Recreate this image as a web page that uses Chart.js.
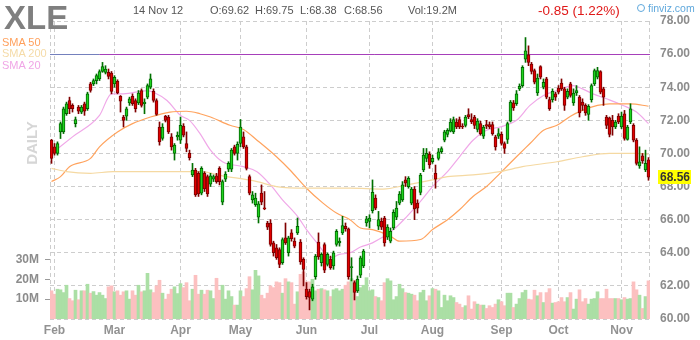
<!DOCTYPE html>
<html>
<head>
<meta charset="utf-8">
<script src="https://cdn.jsdelivr.net/npm/chart.js@4.4.0/dist/chart.umd.min.js"></script>
<style>
  body { margin: 0; background: #fff; }
  #wrap { position: relative; width: 700px; height: 340px; font-family: Arial, "Liberation Sans", sans-serif; }
  #chart { position: absolute; left: 0; top: 0; }
  .t { position: absolute; white-space: nowrap; line-height: 1; }
  .hd { font-size: 11px; color: #555; top: 5px; }
  .sma { font-size: 11px; left: 2px; }
</style>
</head>
<body>
<div id="wrap">
  <canvas id="chart" width="700" height="340"></canvas>
  <div class="t" style="left:4px; top:1px; font-size:33px; font-weight:bold; color:#7f7f7f;">XLE</div>
  <div class="t hd" style="left:133px;">14 Nov 12</div>
  <div class="t hd" style="left:210px;">O:69.62</div>
  <div class="t hd" style="left:255px;">H:69.75</div>
  <div class="t hd" style="left:300px;">L:68.38</div>
  <div class="t hd" style="left:344px;">C:68.56</div>
  <div class="t hd" style="left:408px;">Vol:19.2M</div>
  <div class="t" style="left:538px; top:4px; font-size:13.5px; color:#e01818;">-0.85 (1.22%)</div>
  <div class="t" style="left:637px; top:3px; font-size:10.5px; color:#5fa8dc;"><span style="display:inline-block;width:6px;height:6px;border:1px solid #5fa8dc;border-radius:50%;margin-right:3px;vertical-align:0px;"></span>finviz.com</div>
  <div class="t sma" style="top:37px; color:#ffa05c;">SMA 50</div>
  <div class="t sma" style="top:48px; color:#f5dba8;">SMA 200</div>
  <div class="t sma" style="top:60px; color:#f0a6e6;">SMA 20</div>
  <div class="t" style="left:31px; top:143px; font-size:15px; font-weight:bold; color:#d6d6d6; transform:translate(-50%,-50%) rotate(-90deg);">DAILY</div>
</div>
<script>
// daily candles, Jan 31 2012 .. Nov 14 2012 (index = trading day)
const opens = [
  70.8, 70.4, 70.0, 71.3, 71.3, 72.4, 73.2, 72.9, 71.8, 72.8,
  72.5, 73.0, 72.7, 74.2, 74.2, 74.4, 74.5, 74.95, 74.9, 74.9,
  74.85, 74.2, 74.35, 73.45, 72.2, 72.25, 73.05, 73.45, 73.2, 73.05,
  73.8, 73.0, 73.4, 74.0, 73.75, 73.2, 71.6, 70.9, 72.25, 72.2,
  71.0, 70.0, 71.0, 70.8, 71.65, 70.6, 70.0, 68.7, 69.0, 68.8,
  67.6, 68.8, 68.6, 68.15, 68.45, 68.65, 69.1, 67.05, 68.45, 69.05,
  69.05, 70.4, 70.0, 70.6, 71.0, 70.4, 68.6, 67.2, 66.9, 66.15,
  67.6, 66.7, 65.8, 65.8, 64.6, 64.3, 64.2, 63.4, 64.9, 64.0,
  65.2, 64.7, 65.2, 64.65, 63.6, 61.8, 61.65, 61.2, 62.55, 64.65,
  63.4, 64.5, 63.3, 63.6, 63.2, 64.5, 64.6, 65.2, 65.6, 65.45,
  63.1, 62.2, 61.7, 62.65, 63.2, 65.8, 65.9, 66.55, 67.3, 65.6,
  65.9, 66.1, 64.95, 64.7, 65.5, 66.15, 67.0, 67.2, 68.4, 68.0,
  67.0, 67.85, 67.0, 67.65, 69.0, 69.7, 69.95, 69.5, 68.8, 69.7,
  70.1, 70.8, 71.15, 71.35, 71.3, 71.9, 72.05, 71.65, 71.7, 72.35,
  72.05, 72.2, 71.45, 71.8, 71.05, 71.75, 71.75, 71.75, 71.0, 71.05,
  71.15, 70.6, 70.85, 71.95, 73.05, 73.0, 73.9, 74.1, 75.7, 75.95,
  75.4, 75.0, 73.65, 75.25, 74.0, 74.5, 73.25, 73.25, 73.6, 73.95,
  74.25, 73.9, 73.4, 74.2, 73.05, 73.65, 73.4, 73.1, 72.9, 72.35,
  73.25, 74.2, 74.6, 74.95, 73.9, 72.2, 72.15, 72.0, 71.6, 72.25,
  71.6, 72.4, 70.85, 71.9, 71.7, 70.8, 69.25, 69.85, 69.0, 69.62
];
const highs = [
  70.85, 70.6, 70.7, 71.9, 72.8, 73.1, 73.4, 73.0, 72.2, 72.9,
  72.9, 73.1, 73.7, 74.3, 74.5, 74.8, 75.05, 75.5, 75.3, 75.1,
  74.95, 74.7, 74.45, 73.5, 72.3, 72.8, 73.4, 73.6, 73.3, 73.8,
  73.9, 73.3, 74.2, 74.8, 73.9, 73.3, 71.9, 71.8, 72.3, 72.3,
  71.2, 70.6, 71.3, 72.2, 71.8, 71.3, 70.2, 69.4, 69.1, 68.9,
  69.2, 68.9, 68.7, 68.8, 68.7, 68.8, 69.2, 68.4, 68.9, 69.5,
  70.3, 70.5, 70.7, 72.05, 71.3, 70.5, 68.7, 67.7, 67.6, 67.1,
  68.1, 67.7, 65.9, 66.0, 64.7, 64.5, 64.3, 64.9, 65.8, 65.0,
  65.4, 64.9, 66.1, 64.8, 63.7, 62.2, 61.8, 62.1, 63.9, 65.2,
  64.0, 64.6, 64.0, 63.8, 64.1, 65.4, 64.9, 66.2, 65.8, 65.5,
  63.7, 62.3, 62.6, 63.8, 64.2, 66.2, 66.3, 68.4, 67.5, 66.5,
  66.1, 66.2, 65.7, 65.5, 66.6, 67.1, 67.7, 68.3, 68.6, 68.6,
  67.95, 68.0, 67.2, 68.8, 70.3, 70.3, 70.1, 69.9, 69.3, 70.3,
  70.4, 71.4, 71.5, 72.1, 72.2, 72.1, 72.2, 71.8, 72.3, 72.7,
  72.4, 72.3, 72.1, 71.95, 71.7, 72.0, 71.9, 71.9, 71.1, 71.5,
  71.3, 70.7, 71.9, 73.2, 73.2, 73.8, 74.2, 75.3, 77.0, 76.5,
  75.5, 75.1, 74.8, 75.3, 74.5, 74.6, 73.4, 73.9, 73.7, 74.1,
  74.5, 74.0, 73.9, 74.3, 73.9, 74.1, 73.5, 73.3, 73.0, 72.95,
  74.2, 75.1, 75.2, 75.0, 74.0, 72.3, 72.2, 72.3, 72.0, 72.4,
  72.5, 72.6, 71.7, 73.0, 71.8, 70.9, 70.4, 70.0, 70.2, 69.75
];
const lows = [
  69.4, 69.9, 69.9, 70.9, 71.2, 72.3, 72.4, 72.5, 71.6, 72.4,
  72.4, 72.3, 72.6, 73.7, 74.1, 74.2, 74.4, 74.9, 74.8, 74.5,
  73.6, 74.0, 73.6, 72.5, 71.6, 72.0, 72.9, 72.9, 72.5, 72.95,
  72.8, 72.4, 73.3, 73.9, 73.1, 72.3, 70.5, 70.8, 71.9, 71.2,
  70.2, 69.6, 70.8, 70.6, 71.0, 70.1, 69.6, 68.6, 67.4, 67.4,
  67.5, 67.7, 67.4, 68.0, 68.3, 68.2, 68.1, 66.9, 68.3, 68.9,
  68.9, 69.9, 69.6, 70.4, 70.3, 69.0, 67.5, 67.0, 66.8, 65.8,
  66.9, 66.6, 65.4, 64.4, 63.8, 63.6, 63.1, 63.3, 64.5, 63.8,
  64.7, 64.3, 65.1, 63.3, 62.0, 61.2, 60.55, 61.1, 62.4, 63.6,
  63.2, 62.8, 63.2, 63.0, 63.0, 64.4, 64.4, 65.1, 65.3, 62.4,
  62.3, 61.15, 61.6, 62.5, 63.1, 65.6, 65.5, 66.4, 66.6, 65.4,
  65.4, 64.4, 64.8, 64.6, 65.4, 66.0, 66.9, 67.1, 68.0, 67.9,
  66.9, 66.0, 66.4, 67.5, 68.9, 69.5, 69.1, 69.4, 67.9, 69.6,
  70.0, 70.7, 71.0, 71.3, 71.2, 71.5, 71.5, 71.5, 71.6, 72.1,
  71.8, 71.5, 71.3, 71.1, 70.9, 71.5, 71.5, 71.1, 70.2, 70.9,
  70.5, 70.0, 70.6, 71.9, 72.6, 72.9, 73.8, 74.0, 75.5, 75.3,
  74.8, 74.2, 73.5, 74.5, 73.9, 73.3, 72.6, 73.1, 73.2, 73.6,
  73.8, 72.6, 73.3, 73.4, 72.9, 73.5, 72.2, 72.6, 72.3, 72.0,
  73.1, 74.1, 74.5, 73.6, 72.9, 71.5, 71.0, 71.1, 71.5, 71.8,
  71.5, 70.8, 70.8, 71.8, 70.7, 69.3, 69.1, 69.4, 68.9, 68.38
];
const closes = [
  69.7, 70.0, 70.6, 71.8, 72.7, 73.0, 72.7, 72.7, 72.05, 72.55,
  72.8, 72.55, 73.6, 73.8, 74.4, 74.7, 74.95, 75.25, 75.1, 74.65,
  73.75, 74.6, 73.65, 73.15, 72.0, 72.7, 73.3, 73.0, 72.7, 73.65,
  72.9, 73.1, 74.1, 74.5, 73.2, 72.35, 70.7, 71.6, 72.0, 71.3,
  70.4, 70.5, 71.1, 71.7, 71.1, 70.3, 69.75, 69.0, 67.5, 67.55,
  69.1, 67.85, 67.55, 68.65, 68.6, 68.3, 68.3, 68.3, 68.75, 69.4,
  70.2, 70.0, 70.55, 71.6, 70.4, 69.1, 67.6, 67.5, 67.3, 66.95,
  67.05, 66.65, 65.55, 64.5, 64.0, 63.7, 63.3, 64.8, 64.6, 64.9,
  64.85, 64.4, 65.6, 63.45, 63.0, 61.35, 61.3, 61.95, 63.8, 63.75,
  63.9, 62.95, 63.9, 63.1, 64.0, 65.3, 64.7, 65.65, 65.45, 62.55,
  63.15, 61.6, 62.4, 63.7, 64.1, 66.05, 66.1, 67.65, 66.7, 66.0,
  65.55, 64.6, 65.55, 65.3, 66.45, 66.7, 67.55, 68.1, 68.2, 68.5,
  67.85, 66.65, 66.7, 68.7, 69.9, 70.0, 69.3, 69.7, 68.45, 70.1,
  70.3, 71.3, 71.4, 71.9, 72.05, 71.6, 71.6, 71.6, 72.2, 72.2,
  71.9, 71.7, 71.95, 71.2, 71.6, 71.65, 71.6, 71.2, 70.4, 71.2,
  70.6, 70.3, 71.8, 73.1, 72.75, 73.6, 74.05, 75.2, 76.2, 75.5,
  74.95, 74.3, 74.55, 74.6, 74.3, 73.4, 72.7, 73.75, 73.4, 73.7,
  73.9, 72.9, 73.75, 73.5, 73.65, 73.8, 72.45, 72.9, 72.45, 72.85,
  74.1, 75.0, 75.0, 73.7, 73.4, 71.7, 71.15, 71.6, 71.9, 71.9,
  72.25, 70.9, 71.6, 72.7, 70.8, 69.4, 69.5, 69.55, 69.41, 68.56
];
// volume in millions
const volumes = [
  14.2, 12.5, 15, 14.7, 13.3, 17, 10.3, 9.2, 14.5, 9.7,
  14.2, 14.2, 17.5, 13, 13.8, 12, 13.3, 12, 10.3, 16.2,
  16.7, 13.7, 14.2, 12, 13.7, 14.2, 10, 14.2, 12, 17,
  13.7, 14.2, 23, 14.7, 13.3, 16.7, 19.5, 13, 10, 12.5,
  15, 16.2, 12.8, 17.8, 15.8, 18.3, 9.2, 15, 22, 12.5,
  14.5, 12.5, 14.5, 14.2, 10.3, 20.5, 14.5, 17, 10, 14.2,
  11.3, 7, 7, 14.2, 11.3, 15.3, 21.3, 14.7, 24.5, 21.7,
  12, 10.3, 13, 16.7, 15.8, 18.7, 18.3, 13, 20.3, 18.7,
  18.3, 7.5, 13.7, 22.5, 23.7, 18.7, 18.7, 20, 14.2, 15,
  15.3, 14.7, 14.2, 11.3, 14.7, 15.3, 14.2, 15, 17, 18.7,
  20.3, 19.5, 11.3, 15.8, 17, 20.8, 14.2, 14.7, 11.3, 10.8,
  9.2, 18.3, 20.3, 19.2, 9.7, 11.3, 17.5, 15.3, 13.3, 13,
  12.5, 12, 9.2, 13.3, 14.5, 9.2, 11.7, 15.3, 15, 14.2,
  5.8, 12, 9.2, 11.7, 10.8, 8.3, 7.5, 5.8, 6.7, 11.7,
  5, 8.7, 7.5, 7, 7, 5.3, 6.7, 5.8, 7.5, 9.7,
  8.7, 6.7, 13, 13, 5.8, 7.5, 10.3, 13.3, 14.5, 10,
  9.7, 14.5, 11.7, 13.3, 8.3, 13.3, 15.3, 8, 8.3, 8.7,
  10.8, 8.7, 10.8, 13.3, 5, 10, 14.7, 8.7, 10.3, 7.5,
  10, 10.3, 13.7, 10.3, 10.3, 15, 10.3, 10.3, 10.3, 10.3,
  9.7, 10.8, 10, 10.3, 18.7, 14.7, 12, 5.3, 11.3, 19.2
];

// moving averages at these day positions
const sma20X = [0, 7, 16, 20, 24, 32, 34, 38.5, 43, 46, 49.5, 53, 57, 64, 68.5, 73, 77, 82, 85, 88.5, 93, 96, 99.5, 103, 107, 114, 118.5, 123, 127, 132, 136, 140.5, 145, 149.5, 155, 159.5, 164, 168.5, 174, 177, 180.5, 185, 190.5, 195, 199];
const sma20Y = [70.0, 71.0, 72.3, 73.6, 73.6, 73.8, 73.7, 73.2, 72.3, 72.0, 71.2, 70.2, 69.5, 69.2, 68.9, 68.1, 67.2, 66.2, 65.4, 64.6, 63.7, 63.9, 64.0, 64.35, 64.6, 65.4, 66.2, 67.1, 68.0, 68.9, 69.8, 70.8, 71.4, 71.6, 72.0, 72.9, 73.5, 73.8, 74.1, 73.9, 73.6, 73.3, 72.9, 72.5, 71.8];
const sma50X = [0, 3, 6, 13, 16, 22, 27, 33, 39.5, 45, 49.5, 53, 59.5, 64, 68.5, 75, 79.5, 85, 90.5, 95, 99.5, 103, 107, 113, 116, 123, 127, 132, 136, 140.5, 145, 149.5, 155, 159.5, 164, 168.5, 173, 177, 182, 186, 193, 199];
const sma50Y = [68.3, 68.6, 69.2, 69.7, 70.4, 71.3, 71.8, 72.2, 72.5, 72.55, 72.4, 72.2, 71.7, 71.45, 70.8, 69.8, 69.0, 67.9, 67.0, 66.4, 66.0, 65.5, 65.4, 65.0, 64.7, 64.8, 65.4, 66.0, 66.6, 67.4, 68.0, 68.8, 69.8, 70.6, 71.4, 71.7, 72.25, 72.6, 72.9, 73.0, 73.0, 72.85];
const sma200X = [0, 5, 13, 20.5, 29.5, 40.5, 49.5, 57, 68.5, 75, 85, 99.5, 110.5, 118.5, 127, 132, 140.5, 149.5, 157, 168.5, 177, 186, 195, 199];
const sma200Y = [69.1, 68.9, 68.8, 68.9, 68.9, 68.9, 68.9, 68.65, 68.3, 68.0, 67.9, 67.9, 67.85, 68.1, 68.4, 68.6, 68.7, 68.9, 69.2, 69.5, 69.8, 70.0, 70.0, 69.95];

const monthNames = ['Feb', 'Mar', 'Apr', 'May', 'Jun', 'Jul', 'Aug', 'Sep', 'Oct', 'Nov'];
const monthStarts = [1, 21, 43, 63, 85, 106, 127, 150, 169, 190];
const volTicks = [10, 20, 30];
const levelLine = 76;
const levelSplitDay = 16; // level line changes colour here

Chart.defaults.font.family = 'Arial, "Liberation Sans", sans-serif';

const up = closes.map((c, i) => c >= opens[i]);
const pts = (xs, ys) => xs.map((x, i) => ({ x, y: ys[i] }));
const tickFont = { size: 12, weight: 'bold' };
const gridGray = '#cdcdcd';

const levelPlugin = {
  id: 'levelLine',
  beforeDatasetsDraw(chart) {
    const { ctx, chartArea: a, scales: { x, y } } = chart;
    const py = Math.round(y.getPixelForValue(levelLine)) + 0.5;
    const px = x.getPixelForValue(levelSplitDay);
    ctx.save();
    // dashed frame at both sides
    ctx.strokeStyle = gridGray;
    ctx.lineWidth = 1;
    ctx.setLineDash([4, 3]);
    ctx.beginPath();
    ctx.moveTo(a.left + 0.5, a.top); ctx.lineTo(a.left + 0.5, a.bottom);
    ctx.moveTo(a.right - 0.5, a.top); ctx.lineTo(a.right - 0.5, a.bottom);
    ctx.stroke();
    ctx.setLineDash([]);
    ctx.strokeStyle = '#7480bd';
    ctx.beginPath();
    ctx.moveTo(a.left, py); ctx.lineTo(px, py);
    ctx.stroke();
    ctx.strokeStyle = '#a63fba';
    ctx.beginPath();
    ctx.moveTo(px, py); ctx.lineTo(a.right, py);
    ctx.stroke();
    ctx.restore();
  }
};

const lastPricePlugin = {
  id: 'lastPrice',
  afterDraw(chart) {
    const { ctx, chartArea: a, scales: { y } } = chart;
    const last = closes[closes.length - 1];
    const py = y.getPixelForValue(last);
    ctx.save();
    ctx.fillStyle = '#ffff00';
    ctx.fillRect(a.right + 8, Math.round(py) - 7, 33, 14);
    ctx.fillStyle = '#333';
    ctx.font = 'bold 12px Arial, "Liberation Sans", sans-serif';
    ctx.textBaseline = 'middle';
    ctx.fillText(last.toFixed(2), a.right + 10, Math.round(py) + 0.5);
    ctx.restore();
  }
};

new Chart(document.getElementById('chart'), {
  type: 'bar',
  data: {
    datasets: [
      {
        type: 'bar', label: 'Volume', yAxisID: 'vol',
        data: volumes.map((v, i) => ({ x: i, y: v })),
        backgroundColor: up.map(u => u ? '#abdfa5' : '#fcc0c0'),
        barThickness: 3, grouped: false, order: 5
      },
      {
        type: 'line', label: 'SMA 200', yAxisID: 'y',
        data: pts(sma200X, sma200Y),
        borderColor: '#f5d9a2', borderWidth: 1.2, pointRadius: 0,
        cubicInterpolationMode: 'monotone', order: 4
      },
      {
        type: 'line', label: 'SMA 50', yAxisID: 'y',
        data: pts(sma50X, sma50Y),
        borderColor: '#ffa35e', borderWidth: 1.2, pointRadius: 0,
        cubicInterpolationMode: 'monotone', order: 4
      },
      {
        type: 'line', label: 'SMA 20', yAxisID: 'y',
        data: pts(sma20X, sma20Y),
        borderColor: '#f0a8e8', borderWidth: 1.2, pointRadius: 0,
        cubicInterpolationMode: 'monotone', order: 4
      },
      {
        type: 'bar', label: 'Range', yAxisID: 'y',
        data: highs.map((h, i) => ({ x: i, y: [lows[i], h] })),
        backgroundColor: up.map(u => u ? '#007000' : '#800000'),
        barThickness: 1, grouped: false, order: 2
      },
      {
        type: 'bar', label: 'Body', yAxisID: 'y',
        data: opens.map((o, i) => ({ x: i, y: [o, closes[i]] })),
        backgroundColor: up.map(u => u ? '#1fd31f' : '#e00000'),
        borderColor: up.map(u => u ? '#006400' : '#780000'),
        borderWidth: 1, borderSkipped: false, minBarLength: 1,
        barThickness: 3, grouped: false, order: 1
      }
    ]
  },
  options: {
    responsive: false,
    animation: false,
    layout: { padding: { top: 21, left: 0, right: 0, bottom: 0 } },
    plugins: { legend: { display: false }, tooltip: { enabled: false } },
    scales: {
      x: {
        type: 'linear', min: -0.5, max: 199.5, offset: false,
        afterBuildTicks: s => { s.ticks = monthStarts.map(v => ({ value: v })); },
        afterFit: s => { s.height = 21; },
        ticks: {
          autoSkip: false, maxRotation: 0, padding: 4, color: '#929292', font: tickFont,
          callback: (v, i) => monthNames[i]
        },
        grid: { offset: false, drawTicks: false, color: gridGray },
        border: { display: false, dash: [4, 3] }
      },
      y: {
        position: 'right', min: 60, max: 78,
        afterFit: s => { s.width = 50; },
        ticks: {
          stepSize: 2, padding: 10, color: '#8c8c8c', font: tickFont,
          callback: v => v.toFixed(2)
        },
        grid: { color: gridGray, drawTicks: false },
        border: { display: false, dash: [4, 3] }
      },
      vol: {
        position: 'left', min: 0, max: 150,
        afterFit: s => { s.width = 50; },
        afterBuildTicks: s => { s.ticks = volTicks.map(v => ({ value: v })); },
        ticks: { padding: 6, color: '#8c8c8c', font: tickFont, callback: v => v + 'M' },
        grid: { drawOnChartArea: false, drawTicks: true, tickLength: 5, tickColor: '#9a9a9a' },
        border: { display: false }
      }
    }
  },
  plugins: [levelPlugin, lastPricePlugin]
});
</script>
</body>
</html>
